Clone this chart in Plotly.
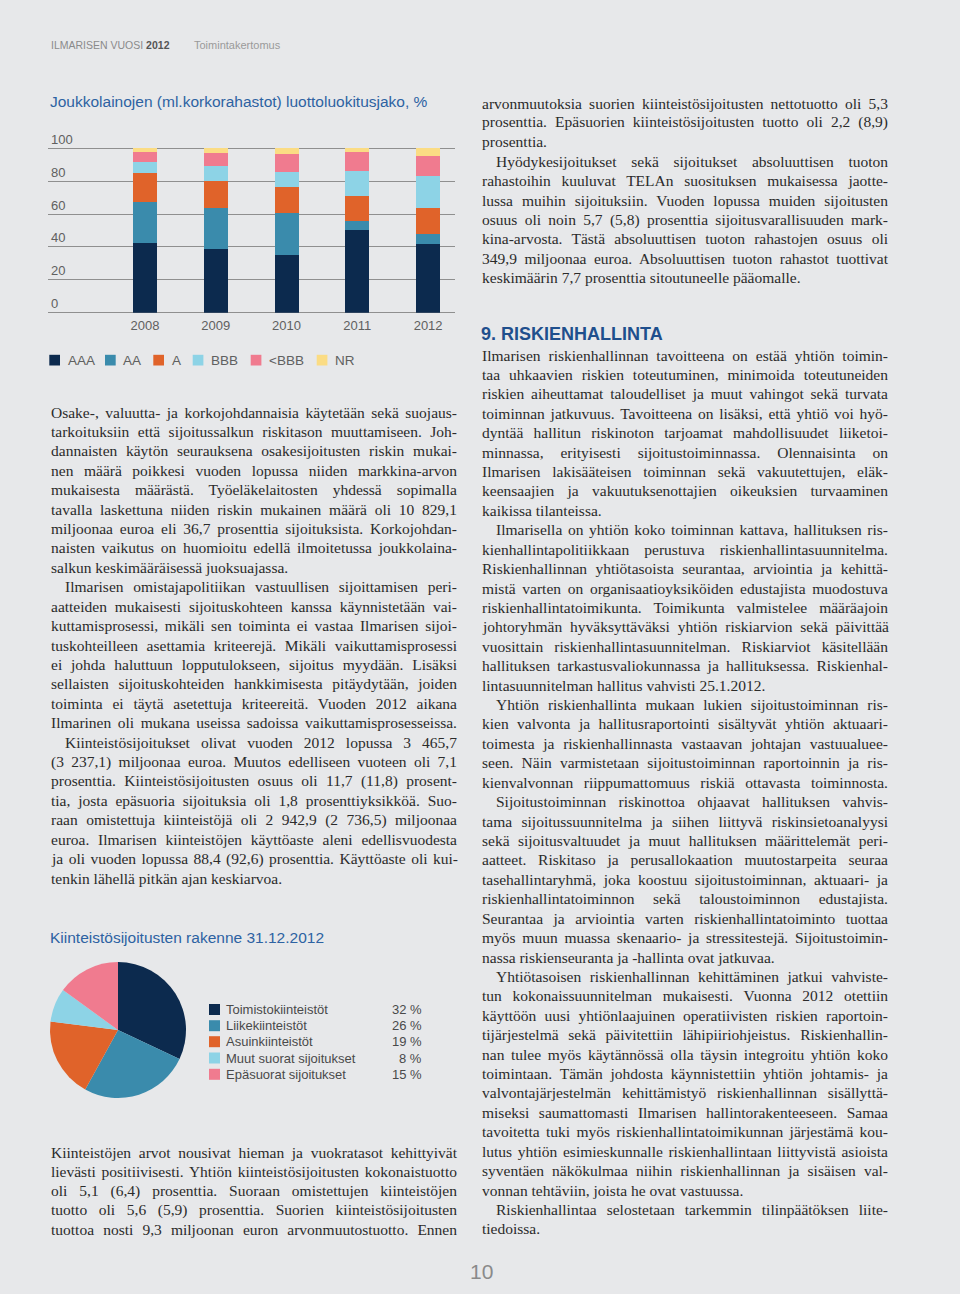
import json
import plotly.graph_objects as go

W, H = 960, 1294
BG = "#e7e8ea"
SERIF = "Liberation Serif"
SANS = "Liberation Sans"
BODY = "#2b2b2b"
BLUE = "#2d62a2"

# ---------------- data ----------------
years = ["2008", "2009", "2010", "2011", "2012"]
rating_names = ["AAA", "AA", "A", "BBB", "&lt;BBB", "NR"]
rating_colors = ["#0c2a4e", "#3a8bac", "#e0632a", "#8dd3e6", "#f07b8f", "#fbdc84"]
aaa = [42.2, 39.0, 35.0, 50.3, 42.0]
aa = [25.3, 24.5, 25.5, 5.5, 5.9]
a_ = [17.7, 16.5, 16.2, 15.2, 15.6]
bbb = [6.3, 9.0, 8.9, 15.4, 19.9]
below_bbb = [6.5, 8.0, 10.9, 11.2, 11.9]
nr = [2.0, 3.0, 3.5, 2.4, 4.7]
rating_series = [aaa, aa, a_, bbb, below_bbb, nr]
y_ticks = [0, 20, 40, 60, 80, 100]

pie_labels = ["Toimistokiinteistöt", "Liikekiinteistöt", "Asuinkiinteistöt",
              "Muut suorat sijoitukset", "Epäsuorat sijoitukset"]
pie_values = [32, 26, 19, 8, 15]
pie_colors = ["#0c2a4e", "#3a8bac", "#e0632a", "#8dd3e6", "#f07b8f"]

# ---------------- text ----------------
left_p1 = [
    "Osake-, valuutta- ja korkojohdannaisia käytetään sekä suojaus-",
    "tarkoituksiin että sijoitussalkun riskitason muuttamiseen. Joh-",
    "dannaisten käytön seurauksena osakesijoitusten riskin mukai-",
    "nen määrä poikkesi vuoden lopussa niiden markkina-arvon",
    "mukaisesta määrästä. Työeläkelaitosten yhdessä sopimalla",
    "tavalla laskettuna niiden riskin mukainen määrä oli 10 829,1",
    "miljoonaa euroa eli 36,7 prosenttia sijoituksista. Korkojohdan-",
    "naisten vaikutus on huomioitu edellä ilmoitetussa joukkolaina-",
    "salkun keskimääräisessä juoksuajassa.",
]
left_p2 = [
    "Ilmarisen omistajapolitiikan vastuullisen sijoittamisen peri-",
    "aatteiden mukaisesti sijoituskohteen kanssa käynnistetään vai-",
    "kuttamisprosessi, mikäli sen toiminta ei vastaa Ilmarisen sijoi-",
    "tuskohteilleen asettamia kriteerejä. Mikäli vaikuttamisprosessi",
    "ei johda haluttuun lopputulokseen, sijoitus myydään. Lisäksi",
    "sellaisten sijoituskohteiden hankkimisesta pitäydytään, joiden",
    "toiminta ei täytä asetettuja kriteereitä. Vuoden 2012 aikana",
    "Ilmarinen oli mukana useissa sadoissa vaikuttamisprosesseissa.",
]
left_p3 = [
    "Kiinteistösijoitukset olivat vuoden 2012 lopussa 3 465,7",
    "(3 237,1) miljoonaa euroa. Muutos edelliseen vuoteen oli 7,1",
    "prosenttia. Kiinteistösijoitusten osuus oli 11,7 (11,8) prosent-",
    "tia, josta epäsuoria sijoituksia oli 1,8 prosenttiyksikköä. Suo-",
    "raan omistettuja kiinteistöjä oli 2 942,9 (2 736,5) miljoonaa",
    "euroa. Ilmarisen kiinteistöjen käyttöaste aleni edellisvuodesta",
    "ja oli vuoden lopussa 88,4 (92,6) prosenttia. Käyttöaste oli kui-",
    "tenkin lähellä pitkän ajan keskiarvoa.",
]
left_p4 = [
    "Kiinteistöjen arvot nousivat hieman ja vuokratasot kehittyivät",
    "lievästi positiivisesti. Yhtiön kiinteistösijoitusten kokonaistuotto",
    "oli 5,1 (6,4) prosenttia. Suoraan omistettujen kiinteistöjen",
    "tuotto oli 5,6 (5,9) prosenttia. Suorien kiinteistösijoitusten",
    "tuottoa nosti 9,3 miljoonan euron arvonmuutostuotto. Ennen",
]
right_p1 = [
    "arvonmuutoksia suorien kiinteistösijoitusten nettotuotto oli 5,3",
    "prosenttia. Epäsuorien kiinteistösijoitusten tuotto oli 2,2 (8,9)",
    "prosenttia.",
]
right_p2 = [
    "Hyödykesijoitukset sekä sijoitukset absoluuttisen tuoton",
    "rahastoihin kuuluvat TELAn suosituksen mukaisessa jaotte-",
    "lussa muihin sijoituksiin. Vuoden lopussa muiden sijoitusten",
    "osuus oli noin 5,7 (5,8) prosenttia sijoitusvarallisuuden mark-",
    "kina-arvosta. Tästä absoluuttisen tuoton rahastojen osuus oli",
    "349,9 miljoonaa euroa. Absoluuttisen tuoton rahastot tuottivat",
    "keskimäärin 7,7 prosenttia sitoutuneelle pääomalle.",
]
risk_paras = [
    (False, [
        "Ilmarisen riskienhallinnan tavoitteena on estää yhtiön toimin-",
        "taa uhkaavien riskien toteutuminen, minimoida toteutuneiden",
        "riskien aiheuttamat taloudelliset ja muut vahingot sekä turvata",
        "toiminnan jatkuvuus. Tavoitteena on lisäksi, että yhtiö voi hyö-",
        "dyntää hallitun riskinoton tarjoamat mahdollisuudet liiketoi-",
        "minnassa, erityisesti sijoitustoiminnassa. Olennaisinta on",
        "Ilmarisen lakisääteisen toiminnan sekä vakuutettujen, eläk-",
        "keensaajien ja vakuutuksenottajien oikeuksien turvaaminen",
        "kaikissa tilanteissa.",
    ]),
    (True, [
        "Ilmarisella on yhtiön koko toiminnan kattava, hallituksen ris-",
        "kienhallintapolitiikkaan perustuva riskienhallintasuunnitelma.",
        "Riskienhallinnan yhtiötasoista seurantaa, arviointia ja kehittä-",
        "mistä varten on organisaatioyksiköiden edustajista muodostuva",
        "riskienhallintatoimikunta. Toimikunta valmistelee määräajoin",
        "johtoryhmän hyväksyttäväksi yhtiön riskiarvion sekä päivittää",
        "vuosittain riskienhallintasuunnitelman. Riskiarviot käsitellään",
        "hallituksen tarkastusvaliokunnassa ja hallituksessa. Riskienhal-",
        "lintasuunnitelman hallitus vahvisti 25.1.2012.",
    ]),
    (True, [
        "Yhtiön riskienhallinta mukaan lukien sijoitustoiminnan ris-",
        "kien valvonta ja hallitusraportointi sisältyvät yhtiön aktuaari-",
        "toimesta ja riskienhallinnasta vastaavan johtajan vastuualuee-",
        "seen. Näin varmistetaan sijoitustoiminnan raportoinnin ja ris-",
        "kienvalvonnan riippumattomuus riskiä ottavasta toiminnosta.",
    ]),
    (True, [
        "Sijoitustoiminnan riskinottoa ohjaavat hallituksen vahvis-",
        "tama sijoitussuunnitelma ja siihen liittyvä riskinsietoanalyysi",
        "sekä sijoitusvaltuudet ja muut hallituksen määrittelemät peri-",
        "aatteet. Riskitaso ja perusallokaation muutostarpeita seuraa",
        "tasehallintaryhmä, joka koostuu sijoitustoiminnan, aktuaari- ja",
        "riskienhallintatoiminnon sekä taloustoiminnon edustajista.",
        "Seurantaa ja arviointia varten riskienhallintatoiminto tuottaa",
        "myös muun muassa skenaario- ja stressitestejä. Sijoitustoimin-",
        "nassa riskienseuranta ja -hallinta ovat jatkuvaa.",
    ]),
    (True, [
        "Yhtiötasoisen riskienhallinnan kehittäminen jatkui vahviste-",
        "tun kokonaissuunnitelman mukaisesti. Vuonna 2012 otettiin",
        "käyttöön uusi yhtiönlaajuinen operatiivisten riskien raportoin-",
        "tijärjestelmä sekä päivitettiin lähipiiriohjeistus. Riskienhallin-",
        "nan tulee myös käytännössä olla täysin integroitu yhtiön koko",
        "toimintaan. Tämän johdosta käynnistettiin yhtiön johtamis- ja",
        "valvontajärjestelmän kehittämistyö riskienhallinnan sisällyttä-",
        "miseksi saumattomasti Ilmarisen hallintorakenteeseen. Samaa",
        "tavoitetta tuki myös riskienhallintatoimikunnan järjestämä kou-",
        "lutus yhtiön esimieskunnalle riskienhallintaan liittyvistä asioista",
        "syventäen näkökulmaa niihin riskienhallinnan ja sisäisen val-",
        "vonnan tehtäviin, joista he ovat vastuussa.",
    ]),
    (True, [
        "Riskienhallintaa selostetaan tarkemmin tilinpäätöksen liite-",
        "tiedoissa.",
    ]),
]

# ---------------- figure ----------------
fig = go.Figure()
for name, vals, col in zip(rating_names, rating_series, rating_colors):
    fig.add_trace(go.Bar(x=years, y=vals, name=name, marker=dict(color=col, line=dict(width=0)),
                         width=0.34, showlegend=False))

fig.add_trace(go.Pie(labels=pie_labels, values=pie_values, sort=False, direction="clockwise",
                     rotation=0, marker=dict(colors=pie_colors, line=dict(width=0)),
                     textinfo="none", showlegend=False,
                     domain=dict(x=[50 / W, 186 / W], y=[1 - 1098 / H, 1 - 962 / H])))

ann = []
justify = []
shapes = []


def px(x):
    return x / W


def py(y):
    return 1 - y / H


def add_text(x, y, s, size, color, family=SANS, xanchor="left", just=None):
    ann.append(dict(x=px(x), y=py(y), xref="paper", yref="paper", text=s, showarrow=False,
                    xanchor=xanchor, yanchor="middle", align=xanchor if xanchor != "center" else "center",
                    borderpad=0, font=dict(size=size, color=color, family=family)))
    if just is not None:
        justify.append([len(ann) - 1, just])


BODY_SIZE = 15.5
LH = 19.42


def add_para(lines, x0, y0, width, indent, last_full=False):
    y = y0
    for i, line in enumerate(lines):
        ind = 14 if (indent and i == 0) else 0
        is_last = i == len(lines) - 1
        j = None if (is_last and not last_full) else width - ind
        add_text(x0 + ind, y, line, BODY_SIZE, BODY, SERIF, just=j)
        y += LH
    return y


# header
add_text(50, 45, "ILMARISEN VUOSI <b><span style='color:#555'>2012</span></b>", 10.5, "#8a8a8a")
add_text(193, 45, "Toimintakertomus", 11, "#9a9a9a")

# chart titles
add_text(49, 102, "Joukkolainojen (ml.korkorahastot) luottoluokitusjako, %", 15.5, BLUE)
add_text(49, 937, "Kiinteistösijoitusten rakenne 31.12.2012", 15.5, BLUE)

# bar legend
leg_x = [49.3, 105, 153.3, 192.7, 250.7, 316.7]
for xx, name, col in zip(leg_x, rating_names, rating_colors):
    shapes.append(dict(type="rect", xref="paper", yref="paper", x0=px(xx), x1=px(xx + 10.7),
                       y0=py(365.5), y1=py(354.8), fillcolor=col, line=dict(width=0)))
    add_text(xx + 17.2, 360, name, 13.5, "#606060")

# pie legend
pie_rows = [1009.5, 1025.7, 1041.7, 1058, 1074.3]
for yy, lab, val, col in zip(pie_rows, pie_labels, pie_values, pie_colors):
    shapes.append(dict(type="rect", xref="paper", yref="paper", x0=px(209), x1=px(220),
                       y0=py(yy + 5.5), y1=py(yy - 5.5), fillcolor=col, line=dict(width=0)))
    add_text(225, yy, lab, 13, "#4a4a4a")
    add_text(423, yy, f"{val} %", 13, "#4a4a4a", xanchor="right")

# left column body
y = add_para(left_p1, 50, 412, 406, False)
y = add_para(left_p2, 50, y, 406, True, last_full=True)
y = add_para(left_p3, 50, y, 406, True)
add_para(left_p4, 50, 1152, 406, False, last_full=True)

# right column body
y = add_para(right_p1, 481, 103, 406, False)
y = add_para(right_p2, 481, y, 406, True)
add_text(480, 334, "<b>9. RISKIENHALLINTA</b>", 18, "#1f4f8d")
y = 355
for ind, lines in risk_paras:
    full = lines[-1].startswith("kienvalvonnan")
    y = add_para(lines, 481, y, 406, ind, last_full=full)

# page number
add_text(481, 1271, "10", 21, "#8a8a8a", xanchor="center")

# y axis: 0 at 312.7px, 100 at 148.3px; range extended so the "100" label fits inside
PPU = (312.7 - 148.3) / 100
YMAX = 116
fig.update_layout(
    width=W, height=H, margin=dict(l=0, r=0, t=0, b=0),
    paper_bgcolor=BG, plot_bgcolor=BG, barmode="stack", bargap=0,
    annotations=ann, shapes=shapes, showlegend=False,
    xaxis=dict(domain=[48 / W, 455 / W], range=[-1.37, 4.38], type="category",
               showgrid=False, zeroline=False, showline=False, ticks="",
               ticklabelstandoff=3,
               tickfont=dict(size=13, color="#606060", family=SANS), fixedrange=True),
    yaxis=dict(domain=[1 - 312.7 / H, 1 - (312.7 - YMAX * PPU) / H], range=[0, YMAX],
               tickvals=y_ticks,
               showgrid=True, gridcolor="#8f8f8f", gridwidth=1, zeroline=True, zerolinecolor="#8f8f8f",
               zerolinewidth=1, ticklabelposition="inside top", ticks="", showline=False,
               tickfont=dict(size=13, color="#606060", family=SANS), fixedrange=True),
)

js = ("document.body.style.margin='0';"
      "var J=" + json.dumps(justify) + ";"
      "var gd=document.getElementById('{plot_id}');"
      "J.forEach(function(p){"
      "var g=gd.querySelector('g.annotation[data-index=\"'+p[0]+'\"]');"
      "if(!g)return;var t=g.querySelector('text.annotation-text');if(!t)return;"
      "var w=t.getComputedTextLength();var n=(t.textContent.match(/ /g)||[]).length;"
      "if(n>0){t.style.wordSpacing=((p[1]-w)/n)+'px';}"
      "});")

fig.write_html("out.html", post_script=js, config={"displayModeBar": False})
